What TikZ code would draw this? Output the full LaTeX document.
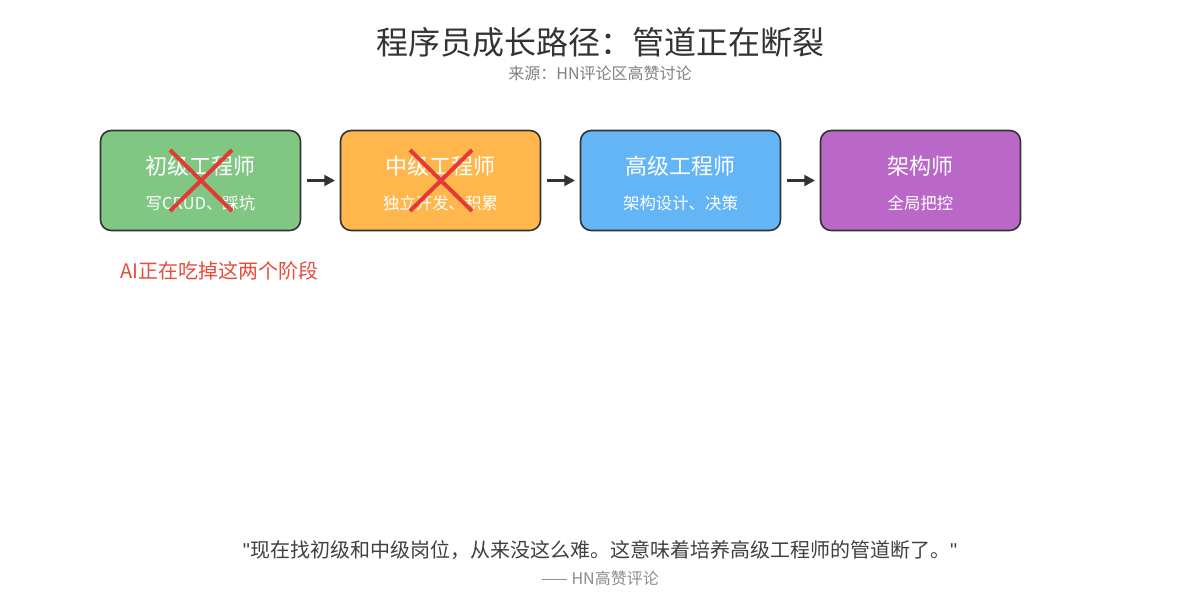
\documentclass[tikz,border=0pt]{standalone}
\usepackage{fontspec}
\setmainfont{Noto Sans CJK SC}
\newfontfamily\quotefont{Liberation Sans}
\usetikzlibrary{arrows.meta}

\definecolor{darkline}{HTML}{333333}
\definecolor{juniorgreen}{HTML}{81C784}
\definecolor{midorange}{HTML}{FFB74D}
\definecolor{seniorblue}{HTML}{64B5F6}
\definecolor{archpurple}{HTML}{BA68C8}
\definecolor{crossred}{HTML}{E53935}
\definecolor{notered}{HTML}{E74C3C}

\tikzset{
    stage/.style={draw=darkline, line width=1.2pt, rounded corners=8pt,
        minimum width=150pt, minimum height=75pt, inner sep=0pt},
    stagetitle/.style={text=white, font=\fontsize{16.5}{18}\selectfont},
    stagesub/.style={text=white, font=\fontsize{12.3}{14}\selectfont},
    flow/.style={-{Triangle[length=8pt,width=8pt]}, line width=2pt, draw=darkline,
        shorten <=4pt, shorten >=3.5pt},
    cross/.style={crossred, line width=3pt}
}

\begin{document}
\begin{tikzpicture}[x=0.75pt,y=0.75pt]
            \useasboundingbox[fill=white] (0,0) rectangle (1200,-600);

            \node[text=darkline, font=\fontsize{24}{28}\selectfont] (title) at (600,-42) {程序员成长路径：管道正在断裂};
            \node[text=black!50, font=\fontsize{12}{14}\selectfont] (source) at (600,-73) {来源：HN评论区高赞讨论};

            \node[stage, fill=juniorgreen] (A) at (200.5,-180.5) {};
            \node[stage, fill=midorange] (B) at (440.5,-180.5) {};
            \node[stage, fill=seniorblue] (C) at (680.5,-180.5) {};
            \node[stage, fill=archpurple] (D) at (920.5,-180.5) {};

            \node[stagetitle] (At) at (200.5,-166) {初级工程师};
            \node[stagesub] (As) at (200.5,-203) {写CRUD、踩坑};
            \node[stagetitle] (Bt) at (440.5,-166) {中级工程师};
            \node[stagesub] (Bs) at (440.5,-203) {独立开发、积累};
            \node[stagetitle] (Ct) at (680.5,-166) {高级工程师};
            \node[stagesub] (Cs) at (680.5,-203) {架构设计、决策};
            \node[stagetitle] (Dt) at (920.5,-166) {架构师};
            \node[stagesub] (Ds) at (920.5,-203) {全局把控};

            \draw[flow] (A) to (B); \draw[flow] (B) to (C); \draw[flow] (C) to (D);

            % struck-out stages
            \draw[cross] (170,-150) -- (232,-211); \draw[cross] (232,-150) -- (170,-211);
            \draw[cross] (410,-150) -- (472,-211); \draw[cross] (472,-150) -- (410,-211);

            \node[anchor=west, text=notered, font=\fontsize{15}{17}\selectfont, inner sep=0pt] (warn) at (120,-271) {AI正在吃掉这两个阶段};

            \node[text=black!75, font=\fontsize{15}{17}\selectfont] (quote) at (600,-550) {{\quotefont"}现在找初级和中级岗位，从来没这么难。这意味着培养高级工程师的管道断了。{\quotefont"}};
            \node[text=black!45, font=\fontsize{12}{14}\selectfont] (by) at (600,-578) {—— HN高赞评论};
        \end{tikzpicture}
\end{document}
